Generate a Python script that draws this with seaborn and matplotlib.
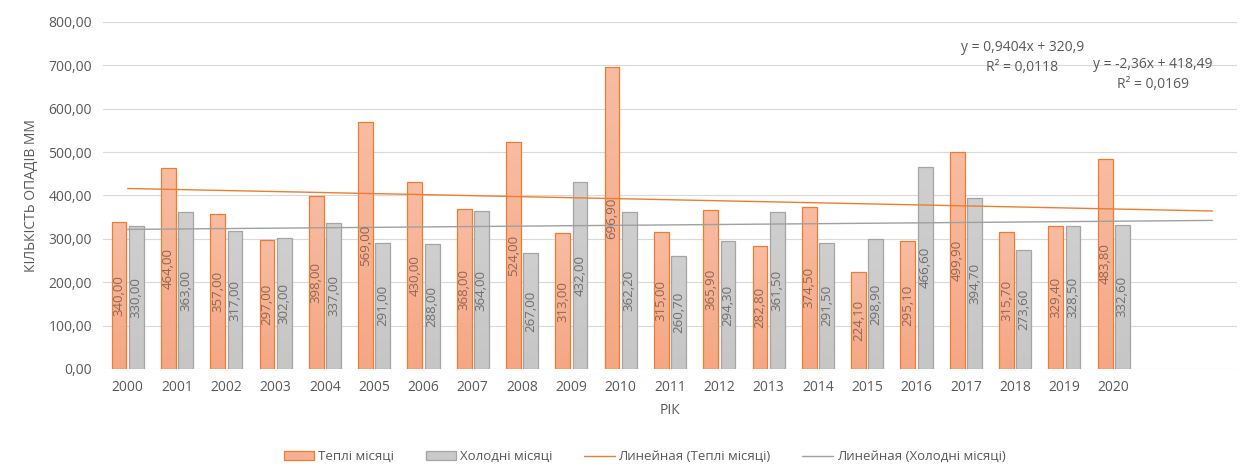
import numpy as np
import pandas as pd
import matplotlib
matplotlib.use("Agg")
import matplotlib.pyplot as plt
from matplotlib.patches import Patch
from matplotlib.lines import Line2D
from matplotlib.colors import LinearSegmentedColormap
import seaborn as sns

# Annual precipitation, mm
years = [str(y) for y in range(2000, 2021)]
warm = [340.0, 464.0, 357.0, 297.0, 398.0, 569.0, 430.0, 368.0, 524.0, 313.0,
        696.9, 315.0, 365.9, 282.8, 374.5, 224.1, 295.1, 499.9, 315.7, 329.4, 483.8]
cold = [330.0, 363.0, 317.0, 302.0, 337.0, 291.0, 288.0, 364.0, 267.0, 432.0,
        362.2, 260.7, 294.3, 361.5, 291.5, 298.9, 466.6, 394.7, 273.6, 328.5, 332.6]

series_names = ["Теплі місяці", "Холодні місяці"]
trend_names = ["Линейная (Теплі місяці)", "Линейная (Холодні місяці)"]

# Linear trend coefficients (slope, intercept, R²), x = 1, 2, ...
warm_trend = (-2.36, 418.49, 0.0169)
cold_trend = (0.9404, 320.9, 0.0118)
forecast_periods = 2

y_ticks = [0, 100, 200, 300, 400, 500, 600, 700, 800]
x_label = "РІК"
y_label = "КІЛЬКІСТЬ ОПАДІВ ММ"

ORANGE_FILL = "#f6b091"
ORANGE_EDGE = "#ed7d31"
GRAY_FILL = "#c9c9c9"
GRAY_EDGE = "#a5a5a5"
GRAY_TREND = "#a0a0a0"
TEXT = "#595959"


def fmt(v, nd=2):
    return f"{v:.{nd}f}".replace(".", ",")


def fmt_coef(v):
    s = f"{v:.4f}".rstrip("0").rstrip(".")
    return s.replace(".", ",")


sns.set_theme(style="white")
plt.rcParams["font.family"] = ["Open Sans", "DejaVu Sans"]

df = pd.DataFrame({
    "year": years * 2,
    "value": warm + cold,
    "series": [series_names[0]] * len(years) + [series_names[1]] * len(years),
})

fig = plt.figure(figsize=(12.52, 4.67), dpi=100)
ax = fig.add_axes([0.0823, 0.2099, 0.9057, 0.743])

sns.barplot(data=df, x="year", y="value", hue="series", order=years,
            hue_order=series_names, palette=[ORANGE_FILL, GRAY_FILL],
            width=0.7, gap=0.14, errorbar=None, legend=False, ax=ax,
            linewidth=0.9, saturation=1)

# Soft vertical gradient inside each bar, outline on top
grad_maps = [
    LinearSegmentedColormap.from_list("w", ["#f5a784", "#f8bca2"]),
    LinearSegmentedColormap.from_list("c", ["#c6c6c6", "#cfcfcf"]),
]
edges = [ORANGE_EDGE, GRAY_EDGE]
grad = np.linspace(0, 1, 64).reshape(-1, 1)
for ci, cont in enumerate(ax.containers):
    for bar in cont:
        x0, y0 = bar.get_x(), bar.get_y()
        w, h = bar.get_width(), bar.get_height()
        im = ax.imshow(grad, cmap=grad_maps[ci], aspect="auto", origin="lower",
                       extent=[x0, x0 + w, y0, y0 + h], zorder=2,
                       interpolation="bilinear")
        im.set_clip_path(bar)
        bar.set_facecolor("none")
        bar.set_edgecolor(edges[ci])
        bar.set_linewidth(0.9)
        bar.set_zorder(3)
    ax.bar_label(cont, labels=[fmt(v) for v in (warm, cold)[ci]],
                 label_type="center", rotation=90, fontsize=9.5,
                 color=["#8f6654", "#6e6e6e"][ci], zorder=5)

# Trend lines with forward forecast
n_total = len(years) + forecast_periods
xi = np.arange(n_total)
for (slope, icpt, _), col in [(warm_trend, ORANGE_EDGE), (cold_trend, GRAY_TREND)]:
    ax.plot(xi, slope * (xi + 1) + icpt, color=col, lw=1.0, zorder=4)

ax.set_xlim(-0.5, n_total - 0.5)
ax.set_ylim(0, 800)
ax.set_yticks(y_ticks)
ax.set_yticklabels([fmt(v) for v in y_ticks])
ax.set_xticks(range(len(years)))
ax.set_xticklabels(years)
ax.yaxis.grid(True, color="#d9d9d9", lw=0.8)
ax.set_axisbelow(True)
for s in ax.spines.values():
    s.set_visible(False)
ax.tick_params(axis="both", length=0, colors=TEXT, labelsize=10)
ax.tick_params(axis="x", pad=8)
ax.tick_params(axis="y", pad=8)
ax.set_xlabel(x_label, color=TEXT, fontsize=10, labelpad=6)
ax.set_ylabel(y_label, color=TEXT, fontsize=10, labelpad=7)

# Trend equations
for (slope, icpt, r2), xpos, ypos in [(cold_trend, 18.15, 742), (warm_trend, 20.8, 703)]:
    sign = "+" if icpt >= 0 else "-"
    ax.text(xpos, ypos, f"y = {fmt_coef(slope)}x {sign} {fmt_coef(abs(icpt))}",
            ha="center", va="center", fontsize=10, color=TEXT)
    ax.text(xpos, ypos - 46, f"R² = {fmt_coef(r2)}",
            ha="center", va="center", fontsize=10, color=TEXT)

handles = [
    Patch(facecolor=ORANGE_FILL, edgecolor=ORANGE_EDGE, lw=0.9),
    Patch(facecolor=GRAY_FILL, edgecolor=GRAY_EDGE, lw=0.9),
    Line2D([], [], color=ORANGE_EDGE, lw=1.0),
    Line2D([], [], color=GRAY_TREND, lw=1.0),
]
fig.legend(handles, series_names + trend_names, loc="center",
           bbox_to_anchor=(0.515, 0.022), ncol=4, frameon=False,
           fontsize=9.5, labelcolor=TEXT, handlelength=2.3, handleheight=0.7,
           columnspacing=2.4, handletextpad=0.3)

fig.savefig("out.png", dpi=100, facecolor="white")
